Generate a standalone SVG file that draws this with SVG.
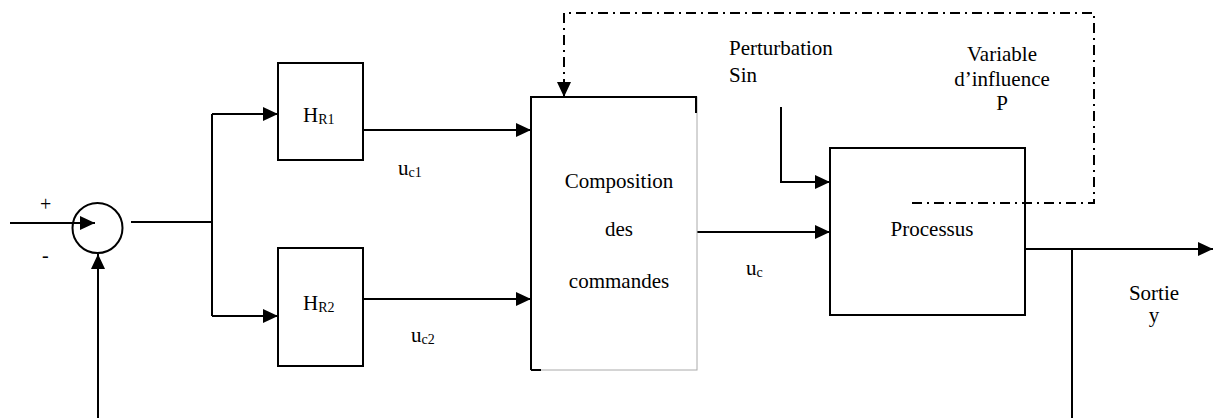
<svg xmlns="http://www.w3.org/2000/svg" width="1214" height="418" viewBox="0 0 1214 418">
<defs>
<marker id="arr" markerUnits="userSpaceOnUse" markerWidth="16" markerHeight="14" refX="15" refY="7" orient="auto">
<path d="M0,0 L15,7 L0,14 z" fill="#000"/>
</marker>
<style>
.ln{stroke:#000;stroke-width:2;fill:none}
.dd{stroke:#000;stroke-width:2;fill:none;stroke-dasharray:10,5,2,5}
.box{stroke:#000;stroke-width:2;fill:#fff}
.sub{font-size:14px}
.mid{text-anchor:middle}
</style>
</defs>
<rect width="1214" height="418" fill="#fff"/>

<g id="connectors">
<path class="ln" d="M10,223 L95,223" marker-end="url(#arr)"/>
<path class="ln" d="M98,418 L98,254" marker-end="url(#arr)"/>
<path class="ln" d="M131,222 L212,222"/>
<path class="ln" d="M212,114 L212,316"/>
<path class="ln" d="M212,114 L278,114" marker-end="url(#arr)"/>
<path class="ln" d="M212,316 L278,316" marker-end="url(#arr)"/>
<path class="ln" d="M363,130 L531,130" marker-end="url(#arr)"/>
<path class="ln" d="M363,299 L531,299" marker-end="url(#arr)"/>
<path class="ln" d="M697,232 L830,232" marker-end="url(#arr)"/>
<path class="ln" d="M781,107 L781,182 L830,182" marker-end="url(#arr)"/>
<path class="ln" d="M1025,249 L1213,249" marker-end="url(#arr)"/>
<path class="ln" d="M1072,249 L1072,418"/>
<path class="dd" d="M912,203 L1094,203 L1094,13 L564,13 L564,82"/>
<path class="ln" d="M564,80 L564,97" marker-end="url(#arr)"/>
</g>

<g font-family="Liberation Serif" font-size="21" fill="#000">
<g id="comparator">
<circle class="ln" cx="97.5" cy="228" r="25"/>
<text x="40" y="211" font-size="20">+</text>
<text x="42" y="262" font-size="20">-</text>
</g>

<g id="HR1">
<rect class="box" x="278" y="63" width="85" height="97"/>
<text x="303" y="122">H<tspan class="sub" dy="2">R1</tspan></text>
</g>

<g id="HR2">
<rect class="box" x="278" y="248" width="85" height="118"/>
<text x="303" y="310">H<tspan class="sub" dy="2">R2</tspan></text>
</g>

<g id="composition">
<rect x="531" y="97" width="166" height="273" fill="#fff" stroke="#aaa" stroke-width="1"/>
<path class="ln" d="M531,370 L531,97 L696,97 L696,113"/>
<path class="ln" d="M531,370 L541,370"/>
<text class="mid" x="619" y="188">Composition</text>
<text class="mid" x="619" y="236">des</text>
<text class="mid" x="619" y="288">commandes</text>
</g>

<g id="processus">
<rect class="box" x="830" y="148" width="195" height="167"/>
<text class="mid" x="932" y="236">Processus</text>
</g>
<path class="dd" d="M912,203 L1025,203"/>

<g id="labels">
<text x="398" y="175">u<tspan class="sub" dy="2">c1</tspan></text>
<text x="411" y="342">u<tspan class="sub" dy="2">c2</tspan></text>
<text x="746" y="275">u<tspan class="sub" dy="2">c</tspan></text>
<text x="729" y="55">Perturbation</text>
<text x="729" y="82">Sin</text>
<text class="mid" x="1002" y="61">Variable</text>
<text class="mid" x="1002" y="86">d’influence</text>
<text class="mid" x="1002" y="110">P</text>
<text class="mid" x="1154" y="300">Sortie</text>
<text class="mid" x="1154" y="322">y</text>
</g>
</g>
</svg>
